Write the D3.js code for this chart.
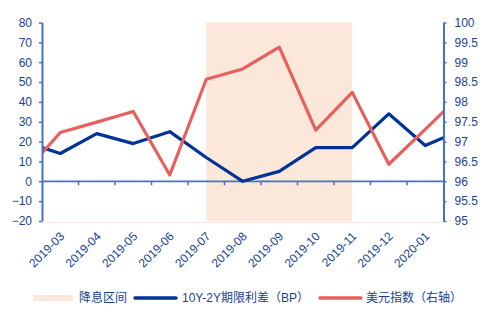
<!DOCTYPE html>
<html>
<head>
<meta charset="utf-8">
<script src="https://cdn.jsdelivr.net/npm/d3@7/dist/d3.min.js"></script>
<style>
  html, body { margin: 0; padding: 0; background: #fff; }
  svg { display: block; }
  text { font-family: "Liberation Sans", Arial, "Noto Sans CJK SC", sans-serif; }
</style>
</head>
<body>
<svg id="chart" width="491" height="325"></svg>
<script>
// Monthly categories shown on the axis
const categories = ["2019-03","2019-04","2019-05","2019-06","2019-07","2019-08",
                    "2019-09","2019-10","2019-11","2019-12","2020-01"];
// Neighbouring months; the lines run on past the plot edge and are clipped
const monthBefore = "2019-02";
const monthAfter = "2020-02";

// 10Y-2Y term spread (BP), left axis
const spreadBefore = 20;
const spread = [14, 24, 19, 25, 12, 0, 5, 17, 17, 34, 18];
const spreadAfter = 26;

// US dollar index, right axis
const dxyBefore = 96.19;
const dxy = [97.23, 97.49, 97.76, 96.16, 98.57, 98.83, 99.38, 97.29, 98.24, 96.43, 97.31];
const dxyAfter = 98.2;

// Rate-cut period
const cutPeriod = ["2019-07", "2019-11"];

// Axis ticks
const leftTicks = [-20, -10, 0, 10, 20, 30, 40, 50, 60, 70, 80];
const rightTicks = [95, 95.5, 96, 96.5, 97, 97.5, 98, 98.5, 99, 99.5, 100];
const rightTickLabels = ["95","95.5","96","96.5","97","97.5","98","98.5","99","99.5","100"];

const legendLabels = ["降息区间", "10Y-2Y期限利差（BP）", "美元指数（右轴）"];

const C = {
  axis: "#4472C4",
  text: "#203F8F",
  blue: "#003399",
  red: "#E8605D",
  shade: "#FCE8DA"
};

const svg = d3.select("#chart");
const plot = { left: 42, right: 443.5, top: 22.5, bottom: 221 };

const xBand = d3.scaleBand().domain(categories).range([plot.left, plot.right]);
const step = xBand.step();
const allMonths = [monthBefore, ...categories, monthAfter];
const xPt = d3.scalePoint().domain(allMonths)
  .range([plot.left + step / 2 - step, plot.right - step / 2 + step]);

const yL = d3.scaleLinear().domain([-20, 80]).range([plot.bottom, plot.top]);
const yR = d3.scaleLinear().domain([95, 100]).range([plot.bottom, plot.top]);

svg.append("defs").append("clipPath").attr("id", "plotClip")
  .append("rect")
  .attr("x", plot.left).attr("y", plot.top - 4)
  .attr("width", plot.right - plot.left).attr("height", plot.bottom - plot.top + 8);

// Rate-cut shading
svg.append("rect")
  .attr("x", xPt(cutPeriod[0]))
  .attr("y", plot.top)
  .attr("width", xPt(cutPeriod[1]) - xPt(cutPeriod[0]))
  .attr("height", plot.bottom - plot.top)
  .attr("fill", C.shade);

// Bottom edge of the plot
svg.append("line")
  .attr("x1", plot.left).attr("x2", plot.right)
  .attr("y1", plot.bottom + 1.5).attr("y2", plot.bottom + 1.5)
  .attr("stroke", C.shade).attr("stroke-width", 1.2);

// Category axis along zero
const zeroY = yL(0);
const xAxisG = svg.append("g");
xAxisG.append("line")
  .attr("x1", plot.left).attr("x2", plot.right)
  .attr("y1", zeroY).attr("y2", zeroY)
  .attr("stroke", C.axis).attr("stroke-width", 1.8);
xAxisG.selectAll("line.tick")
  .data(categories.slice(1))
  .join("line")
  .attr("class", "tick")
  .attr("x1", d => xBand(d)).attr("x2", d => xBand(d))
  .attr("y1", zeroY).attr("y2", zeroY + 4)
  .attr("stroke", C.axis).attr("stroke-width", 1.5);

// Category labels
svg.append("g").selectAll("text")
  .data(categories)
  .join("text")
  .attr("transform", d => `translate(${xBand(d) + xBand.bandwidth() / 2 + 5},${plot.bottom + 16}) rotate(-45)`)
  .attr("text-anchor", "end")
  .attr("font-size", 12)
  .attr("fill", C.text)
  .text(d => d);

// Lines
const lineL = d3.line().x(d => xPt(d.m)).y(d => yL(d.v));
const lineR = d3.line().x(d => xPt(d.m)).y(d => yR(d.v));

const spreadSeries = allMonths.map((m, i) => ({ m, v: [spreadBefore, ...spread, spreadAfter][i] }));
const dxySeries = allMonths.map((m, i) => ({ m, v: [dxyBefore, ...dxy, dxyAfter][i] }));

const lines = svg.append("g").attr("clip-path", "url(#plotClip)");
lines.append("path")
  .datum(spreadSeries)
  .attr("d", lineL)
  .attr("fill", "none")
  .attr("stroke", C.blue)
  .attr("stroke-width", 3.2)
  .attr("stroke-linejoin", "round");
lines.append("path")
  .datum(dxySeries)
  .attr("d", lineR)
  .attr("fill", "none")
  .attr("stroke", C.red)
  .attr("stroke-width", 3.2)
  .attr("stroke-linejoin", "round");

// Value axes
function styleAxis(g) {
  g.select(".domain").attr("stroke", C.axis).attr("stroke-width", 2);
  g.selectAll(".tick line").attr("stroke", C.axis).attr("stroke-width", 1.5);
  g.selectAll(".tick text").attr("fill", C.text).attr("font-size", 12)
    .attr("font-family", "'Liberation Sans', Arial, sans-serif");
}

svg.append("g")
  .attr("transform", `translate(${plot.left},0)`)
  .call(d3.axisLeft(yL).tickValues(leftTicks).tickSize(3).tickSizeOuter(0).tickPadding(7))
  .call(styleAxis);

svg.append("g")
  .attr("transform", `translate(${plot.right},0)`)
  .call(d3.axisRight(yR).tickValues(rightTicks).tickSize(3).tickSizeOuter(0).tickPadding(8)
    .tickFormat((d, i) => rightTickLabels[i]))
  .call(styleAxis);

// Legend
const legendY = 298;
const legend = svg.append("g");
legend.append("rect")
  .attr("x", 33).attr("y", legendY - 3).attr("width", 40).attr("height", 6)
  .attr("fill", C.shade);
legend.append("text")
  .attr("x", 79).attr("y", legendY).attr("dy", "0.35em")
  .attr("font-size", 12).attr("fill", C.text)
  .text(legendLabels[0]);
legend.append("line")
  .attr("x1", 135).attr("x2", 176).attr("y1", legendY).attr("y2", legendY)
  .attr("stroke", C.blue).attr("stroke-width", 3.5).attr("stroke-linecap", "round");
legend.append("text")
  .attr("x", 182).attr("y", legendY).attr("dy", "0.35em")
  .attr("font-size", 12).attr("fill", C.text)
  .text(legendLabels[1]);
legend.append("line")
  .attr("x1", 320).attr("x2", 361).attr("y1", legendY).attr("y2", legendY)
  .attr("stroke", C.red).attr("stroke-width", 3.5).attr("stroke-linecap", "round");
legend.append("text")
  .attr("x", 366).attr("y", legendY).attr("dy", "0.35em")
  .attr("font-size", 12).attr("fill", C.text)
  .text(legendLabels[2]);
</script>
</body>
</html>
